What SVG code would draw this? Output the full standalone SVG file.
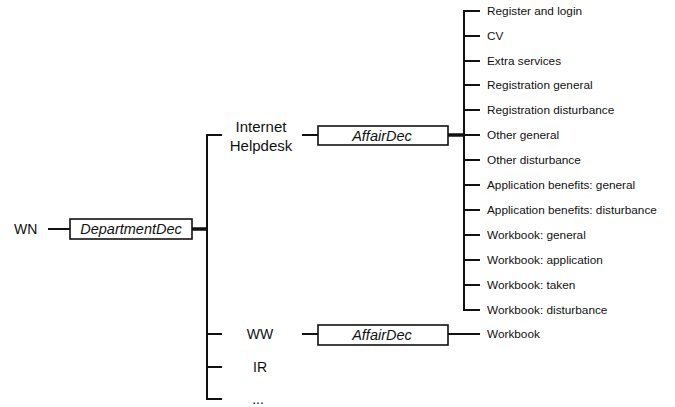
<svg xmlns="http://www.w3.org/2000/svg" width="675" height="407" viewBox="0 0 675 407">
<style>
.t{font-family:"Liberation Sans",Arial,sans-serif;fill:#111}
.lbl{font-size:14px}
.big{font-size:15px}
.it{font-size:14.5px;font-style:italic;text-anchor:middle}
.sm{font-size:11.8px}
.box{fill:#fff;stroke:#111;stroke-width:1.6}
.ln{fill:none;stroke:#111;stroke-width:2}
.thk{fill:none;stroke:#111;stroke-width:3.5}
</style>
<rect width="675" height="407" fill="#fff"/>
<g id="connectors">
<line class="ln" x1="48" y1="229" x2="70" y2="229"/>
<line class="thk" x1="192" y1="229" x2="207" y2="229"/>
<path class="ln" d="M222 135 H207 V399 H222"/>
<line class="ln" x1="207" y1="334" x2="222" y2="334"/>
<line class="ln" x1="207" y1="367" x2="222" y2="367"/>
<line class="ln" x1="302" y1="135" x2="318" y2="135"/>
<line class="thk" x1="448" y1="135" x2="464" y2="135"/>
<path class="ln" d="M480 11 H464 V310 H480"/>
<line class="ln" x1="464" y1="36" x2="480" y2="36"/>
<line class="ln" x1="464" y1="61" x2="480" y2="61"/>
<line class="ln" x1="464" y1="85" x2="480" y2="85"/>
<line class="ln" x1="464" y1="110" x2="480" y2="110"/>
<line class="ln" x1="464" y1="135" x2="480" y2="135"/>
<line class="ln" x1="464" y1="160" x2="480" y2="160"/>
<line class="ln" x1="464" y1="185" x2="480" y2="185"/>
<line class="ln" x1="464" y1="210" x2="480" y2="210"/>
<line class="ln" x1="464" y1="235" x2="480" y2="235"/>
<line class="ln" x1="464" y1="260" x2="480" y2="260"/>
<line class="ln" x1="464" y1="285" x2="480" y2="285"/>
<line class="ln" x1="302" y1="334" x2="318" y2="334"/>
<line class="ln" x1="448" y1="334" x2="480" y2="334"/>
</g>
<g id="wn"><text class="t lbl" x="14" y="234">WN</text></g>
<g id="departmentdec"><rect class="box" x="70" y="219" width="122" height="20"/><text class="t it" x="131" y="234">DepartmentDec</text></g>
<g id="internet-helpdesk"><text class="t big" x="261" y="132" text-anchor="middle">Internet</text><text class="t big" x="261" y="151" text-anchor="middle">Helpdesk</text></g>
<g id="affairdec1"><rect class="box" x="318" y="126" width="130" height="19"/><text class="t it" x="382" y="140.5">AffairDec</text></g>
<g id="ww"><text class="t lbl" x="260" y="339" text-anchor="middle">WW</text></g>
<g id="affairdec2"><rect class="box" x="318" y="325" width="130" height="20"/><text class="t it" x="382" y="340">AffairDec</text></g>
<g id="ir"><text class="t lbl" x="260" y="372" text-anchor="middle">IR</text></g>
<g id="more"><text class="t lbl" x="258" y="404" text-anchor="middle">...</text></g>
<g id="items">
<text class="t sm" x="487" y="15">Register and login</text>
<text class="t sm" x="487" y="40">CV</text>
<text class="t sm" x="487" y="65">Extra services</text>
<text class="t sm" x="487" y="89">Registration general</text>
<text class="t sm" x="487" y="114">Registration disturbance</text>
<text class="t sm" x="487" y="139">Other general</text>
<text class="t sm" x="487" y="164">Other disturbance</text>
<text class="t sm" x="487" y="189">Application benefits: general</text>
<text class="t sm" x="487" y="214">Application benefits: disturbance</text>
<text class="t sm" x="487" y="239">Workbook: general</text>
<text class="t sm" x="487" y="264">Workbook: application</text>
<text class="t sm" x="487" y="289">Workbook: taken</text>
<text class="t sm" x="487" y="314">Workbook: disturbance</text>
<text class="t sm" x="487" y="338">Workbook</text>
</g>
</svg>
